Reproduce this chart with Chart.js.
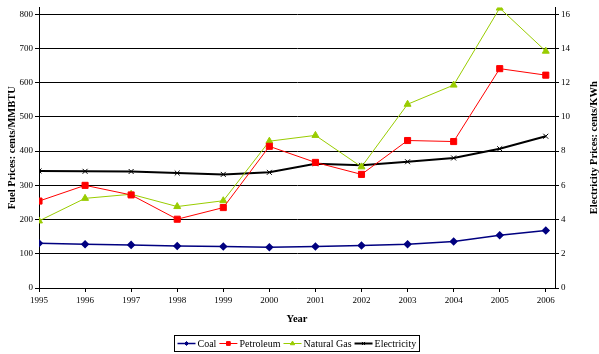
<!DOCTYPE html>
<html>
<head>
<meta charset="utf-8">
<script src="https://cdn.jsdelivr.net/npm/chart.js@4/dist/chart.umd.min.js"></script>
<style>
  html, body { margin: 0; padding: 0; background: #fff; }
  canvas { display: block; }
</style>
</head>
<body>
<canvas id="myChart" width="599" height="354"></canvas>
<script>
// ---------------- data ----------------
var years = [1995, 1996, 1997, 1998, 1999, 2000, 2001, 2002, 2003, 2004, 2005, 2006];
var coal = [131, 128, 126, 123, 121, 119, 121, 124, 128, 136, 154, 168];
var petroleum = [254, 300, 272, 201, 235, 414, 367, 332, 431, 428, 641, 622];
var naturalGas = [196, 262, 274, 238, 255, 429, 446, 354, 537, 593, 818, 692];
var electricity = [6.84, 6.82, 6.81, 6.72, 6.64, 6.76, 7.26, 7.17, 7.38, 7.6, 8.14, 8.87];
var fuelTicks = [0, 100, 200, 300, 400, 500, 600, 700, 800];
var elecTicks = [0, 2, 4, 6, 8, 10, 12, 14, 16];

var serif = '"Liberation Serif", "Times New Roman", serif';

function pts(arr) {
    return years.map((y, i) => ({ x: y, y: arr[i] }));
}

// ---------------- small plugins ----------------
// right axis title reads bottom-to-top like the left one
var rightTitle = {
    id: 'rightTitle',
    afterDraw(chart) {
        var ctx = chart.ctx, a = chart.chartArea;
        ctx.save();
        ctx.translate(594, (a.top + a.bottom) / 2);
        ctx.rotate(-Math.PI / 2);
        ctx.font = 'bold 10.5px ' + serif;
        ctx.fillStyle = '#000';
        ctx.textAlign = 'center';
        ctx.textBaseline = 'middle';
        ctx.fillText('Electricity Prices: cents/KWh', 0, 0);
        ctx.restore();
    }
};

// legend: line + small marker + label, framed
var boxLegend = {
    id: 'boxLegend',
    afterDraw(chart) {
        var ctx = chart.ctx;
        var sets = chart.data.datasets;
        ctx.save();
        ctx.font = '10px ' + serif;
        var lineLen = 18, gap = 2, between = 3, pad = 3;
        var total = 0;
        sets.forEach((d, i) => {
            total += lineLen + gap + ctx.measureText(d.label).width + (i < sets.length - 1 ? between : 0);
        });
        var w = Math.round(total + pad * 2), h = 16;
        var x0 = Math.round(chart.width / 2 - w / 2) - 2.5, y0 = 335.5;
        ctx.strokeStyle = '#000';
        ctx.lineWidth = 1;
        ctx.strokeRect(x0, y0, w, h);
        var x = x0 + pad, cy = y0 + h / 2;
        sets.forEach((d) => {
            ctx.strokeStyle = d.borderColor;
            ctx.lineWidth = d.borderWidth;
            ctx.beginPath();
            ctx.moveTo(x, cy);
            ctx.lineTo(x + lineLen, cy);
            ctx.stroke();
            ctx.fillStyle = d.borderColor;
            ctx.lineWidth = 1;
            Chart.helpers.drawPoint(ctx, {
                pointStyle: d.pointStyle,
                radius: d.pointRadius * 0.62,
                borderWidth: 1,
                rotation: 0
            }, x + lineLen / 2, cy);
            x += lineLen + gap;
            ctx.fillStyle = '#000';
            ctx.textAlign = 'left';
            ctx.textBaseline = 'middle';
            ctx.fillText(d.label, x, cy + 0.5);
            x += ctx.measureText(d.label).width + between;
        });
        ctx.restore();
    }
};

function pointColours(ds) {
    ds.pointBackgroundColor = ds.borderColor;
    ds.pointBorderColor = ds.borderColor;
    return ds;
}

var ctx = document.getElementById('myChart').getContext('2d');
var chart = new Chart(ctx, {
    type: 'line',
    data: {
        datasets: [
            pointColours({ label: 'Coal', data: pts(coal), yAxisID: 'y',
                borderColor: '#000080', borderWidth: 1.5, pointStyle: 'rectRot', pointRadius: 3.2 }),
            pointColours({ label: 'Petroleum', data: pts(petroleum), yAxisID: 'y',
                borderColor: '#FF0000', borderWidth: 1, pointStyle: 'rect', pointRadius: 4.3 }),
            pointColours({ label: 'Natural Gas', data: pts(naturalGas), yAxisID: 'y',
                borderColor: '#99CC00', borderWidth: 1, pointStyle: 'triangle', pointRadius: 4 }),
            pointColours({ label: 'Electricity', data: pts(electricity), yAxisID: 'y1',
                borderColor: '#000000', borderWidth: 2, pointStyle: 'crossRot', pointRadius: 3.5,
                pointBorderWidth: 1 })
        ]
    },
    options: {
        responsive: false,
        animation: false,
        devicePixelRatio: 1,
        layout: { padding: { left: 0, right: 0, top: 0, bottom: 28 } },
        elements: { line: { tension: 0 } },
        plugins: {
            legend: { display: false },
            tooltip: { enabled: false }
        },
        scales: {
            x: {
                type: 'linear',
                min: 1995,
                max: 2006.2,
                afterBuildTicks: (s) => { s.ticks = years.map(v => ({ value: v })); },
                afterFit: (s) => { s.height = 38; },
                ticks: {
                    callback: (v) => String(v),
                    font: { family: serif, size: 9 },
                    color: '#000',
                    padding: 3,
                    maxRotation: 0
                },
                grid: { drawOnChartArea: false, color: '#000', tickLength: 4 },
                border: { color: '#000', width: 1 },
                title: {
                    display: true, text: 'Year', color: '#000',
                    font: { family: serif, size: 10.5, weight: 'bold' },
                    padding: { top: 0, bottom: 0 }
                }
            },
            y: {
                position: 'left',
                min: 0,
                max: 820,
                afterBuildTicks: (s) => { s.ticks = fuelTicks.map(v => ({ value: v })); },
                afterFit: (s) => { s.width = 39; },
                ticks: { font: { family: serif, size: 9 }, color: '#000', padding: 2 },
                grid: { color: '#000', lineWidth: 1, tickLength: 4 },
                border: { color: '#000', width: 1 },
                title: {
                    display: true, text: 'Fuel Prices: cents/MMBTU', color: '#000',
                    font: { family: serif, size: 10.5, weight: 'bold' },
                    padding: { top: 6, bottom: 0 }
                }
            },
            y1: {
                position: 'right',
                min: 0,
                max: 16.4,
                afterBuildTicks: (s) => { s.ticks = elecTicks.map(v => ({ value: v })); },
                afterFit: (s) => { s.width = 44; },
                ticks: { font: { family: serif, size: 9 }, color: '#000', padding: 2 },
                grid: { drawOnChartArea: false, color: '#000', tickLength: 4 },
                border: { color: '#000', width: 1 }
            }
        }
    },
    plugins: [rightTitle, boxLegend]
});
</script>
</body>
</html>
